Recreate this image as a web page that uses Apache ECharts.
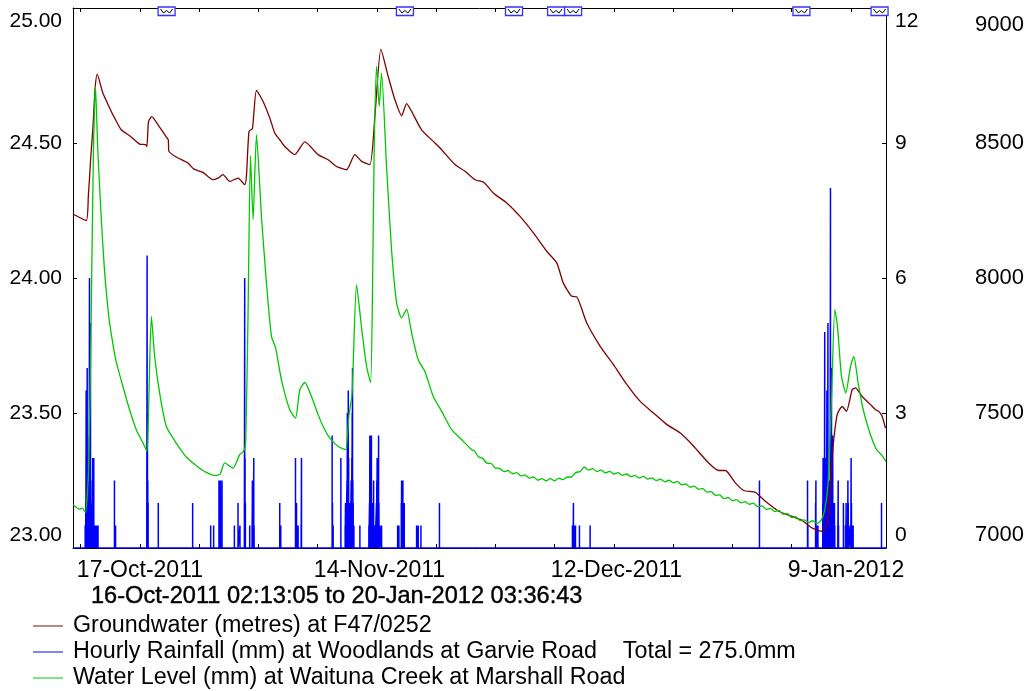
<!DOCTYPE html>
<html>
<head>
<meta charset="utf-8">
<script src="https://cdn.jsdelivr.net/npm/echarts@6/dist/echarts.min.js"></script>
<style>
  html, body { margin: 0; padding: 0; background: #fff; }
  #chart { width: 1028px; height: 691px; }
</style>
</head>
<body>
<div id="chart"></div>
<script>
// Time is measured in days from 16-Oct-2011 00:00.
const START_DAY = 0.09242;   // 16-Oct-2011 02:13:05
const END_DAY = 96.15050;    // 20-Jan-2012 03:36:43
const periodText = '16-Oct-2011 02:13:05 to 20-Jan-2012 03:36:43';

// Weekly tick marks and the four-weekly date labels
const tickDays = [1, 8, 15, 22, 29, 36, 43, 50, 57, 64, 71, 78, 85, 92];
const labelDays = [1, 29, 57, 85];
const dateLabels = ['17-Oct-2011', '14-Nov-2011', '12-Dec-2011', '9-Jan-2012'];

const groundwaterName = 'Groundwater (metres) at F47/0252';
const rainfallName = 'Hourly Rainfall (mm) at Woodlands at Garvie Road';
const waterLevelName = 'Water Level (mm) at Waituna Creek at Marshall Road';

// Groundwater level, metres [day, m]
const groundwater = [
  [0.09, 24.237], [1.65, 24.213], [1.90, 24.30], [2.20, 24.45], [2.43, 24.55], [2.70, 24.70],
  [2.95, 24.755], [3.62, 24.685], [4.61, 24.617], [5.00, 24.593], [5.79, 24.549], [6.78, 24.527],
  [7.96, 24.496], [8.67, 24.494], [8.82, 24.487], [9.02, 24.58], [9.41, 24.598], [10.12, 24.568],
  [11.12, 24.522], [11.35, 24.512], [11.43, 24.469], [12.30, 24.448], [13.67, 24.426], [14.35, 24.404],
  [15.45, 24.391], [16.63, 24.364], [17.22, 24.37], [17.81, 24.383], [18.61, 24.358], [19.59, 24.37],
  [20.38, 24.346], [20.58, 24.376], [20.89, 24.543], [21.29, 24.553], [21.77, 24.695], [22.55, 24.654],
  [23.34, 24.593], [23.93, 24.537], [24.52, 24.512], [25.11, 24.487], [26.30, 24.457], [27.48, 24.504],
  [29.05, 24.457], [30.24, 24.438], [31.23, 24.413], [32.41, 24.401], [33.39, 24.457], [34.19, 24.432],
  [35.17, 24.42], [35.76, 24.598], [36.47, 24.848], [37.33, 24.747], [38.13, 24.66], [38.92, 24.601],
  [39.51, 24.646], [40.10, 24.617], [41.28, 24.549], [42.86, 24.50], [43.65, 24.475], [45.22, 24.42],
  [46.41, 24.395], [47.59, 24.364], [48.65, 24.354], [49.75, 24.315], [51.34, 24.278], [52.91, 24.228],
  [54.49, 24.167], [56.07, 24.099], [57.25, 24.056], [58.03, 23.981], [59.03, 23.932], [59.62, 23.93],
  [60.80, 23.833], [62.38, 23.747], [63.95, 23.679], [65.54, 23.605], [67.11, 23.543], [68.68, 23.50],
  [70.27, 23.457], [71.84, 23.426], [73.02, 23.391], [73.62, 23.37], [75.19, 23.315], [76.37, 23.287],
  [77.17, 23.287], [78.35, 23.241], [79.33, 23.213], [80.72, 23.206], [81.90, 23.173], [83.47, 23.136],
  [85.05, 23.117], [86.23, 23.102], [87.42, 23.074], [88.60, 23.062], [89.26, 23.093], [89.79, 23.339],
  [90.38, 23.494], [90.97, 23.524], [91.48, 23.506], [92.15, 23.586], [92.54, 23.593], [93.33, 23.561],
  [94.32, 23.531], [94.91, 23.512], [95.30, 23.506], [95.70, 23.487], [96.09, 23.444]
];

// Creek water level, mm [day, mm]
const waterLevel = [
  [0.09, 7160], [0.86, 7144], [1.17, 7148], [1.56, 7132], [1.95, 7302], [2.24, 7858], [2.51, 8475],
  [2.75, 8710], [3.02, 8475], [3.42, 8228], [3.81, 8031], [4.32, 7858], [4.79, 7759], [5.19, 7691],
  [5.98, 7599], [6.78, 7512], [7.57, 7438], [8.36, 7389], [8.83, 7358], [9.00, 7487], [9.35, 7858],
  [9.74, 7710], [10.33, 7574], [11.12, 7450], [11.91, 7407], [12.69, 7370], [13.48, 7337], [14.67, 7305],
  [15.85, 7280], [17.03, 7268], [17.50, 7275], [18.01, 7315], [19.00, 7296], [19.79, 7346], [20.26, 7358],
  [20.50, 7395], [20.77, 7858], [21.06, 8453], [21.37, 8216], [21.77, 8531], [22.36, 8228], [22.95, 7981],
  [23.54, 7784], [24.03, 7741], [24.72, 7623], [25.70, 7512], [26.38, 7481], [26.89, 7586], [27.48, 7613],
  [28.27, 7561], [29.05, 7494], [29.84, 7438], [30.44, 7407], [31.42, 7376], [32.29, 7364], [32.68, 7487],
  [33.07, 7574], [33.59, 7975], [34.26, 7796], [34.78, 7673], [35.25, 7613], [35.49, 7981], [35.68, 8475],
  [35.96, 8784], [36.27, 8636], [36.55, 8759], [37.14, 8413], [37.73, 8105], [38.33, 7907], [38.92, 7852],
  [39.51, 7885], [40.10, 7796], [40.88, 7697], [41.67, 7654], [42.66, 7561], [43.65, 7506], [44.83, 7438],
  [46.02, 7401], [47.20, 7364], [47.5, 7360], [48.0, 7338], [48.5, 7332], [49.0, 7314], [49.5, 7313],
  [50.0, 7296], [50.5, 7295], [51.0, 7283], [51.5, 7287], [52.0, 7275], [52.5, 7279], [53.0, 7267],
  [53.5, 7271], [54.0, 7259], [54.5, 7263], [55.0, 7251], [55.5, 7257], [56.0, 7249], [56.5, 7257],
  [57.0, 7249], [57.5, 7259], [58.0, 7253], [58.5, 7263], [59.0, 7263], [59.5, 7280], [60.0, 7283],
  [60.5, 7300], [61.0, 7289], [61.5, 7294], [62.0, 7283], [62.5, 7289], [63.0, 7278], [63.5, 7284],
  [64.0, 7274], [64.5, 7279], [65.0, 7269], [65.5, 7274], [66.0, 7264], [66.5, 7269], [67.0, 7259],
  [67.5, 7265], [68.0, 7255], [68.5, 7260], [69.0, 7250], [69.5, 7255], [70.0, 7245], [70.5, 7251],
  [71.0, 7241], [71.5, 7247], [72.0, 7234], [72.5, 7237], [73.0, 7225], [73.5, 7229], [74.0, 7218],
  [74.5, 7220], [75.0, 7207], [75.5, 7209], [76.0, 7195], [76.5, 7197], [77.0, 7183], [77.5, 7187],
  [78.0, 7175], [78.5, 7179], [79.0, 7167], [79.5, 7172], [80.0, 7162], [80.5, 7166], [81.0, 7153],
  [81.5, 7156], [82.0, 7143], [82.5, 7147], [83.0, 7135], [83.5, 7139], [84.0, 7125], [84.5, 7127],
  [85.0, 7113], [85.5, 7115], [86.0, 7102], [86.5, 7104], [87.0, 7094], [87.5, 7101], [88.0, 7091],
  [88.5, 7103], [88.92, 7142], [89.31, 7241], [89.71, 7549], [90.10, 7883], [90.42, 7821], [90.89, 7636],
  [91.40, 7574], [91.96, 7673], [92.35, 7710], [92.86, 7611], [93.46, 7512], [94.25, 7426], [95.04, 7364],
  [95.63, 7345], [96.02, 7327], [96.15, 7320]
];

// Hourly rainfall totals, mm [day, mm] (hours with no rain are left out)
const rainfall = [
  [1.53, 0.5], [1.57, 0.5], [1.61, 1.0], [1.65, 3.5], [1.69, 2.0], [1.73, 2.5], [1.77, 4.0], [1.81, 1.5],
  [1.86, 1.0], [1.91, 1.0], [1.96, 0.5], [2.00, 2.5], [2.04, 6.0], [2.08, 3.0], [2.12, 2.5], [2.16, 5.0],
  [2.20, 1.5], [2.24, 1.0], [2.28, 1.0], [2.33, 0.5], [2.38, 1.0], [2.43, 2.0], [2.47, 1.0], [2.51, 0.5],
  [2.55, 2.0], [2.59, 0.5], [2.64, 0.5], [2.72, 0.5], [2.87, 0.5], [3.05, 0.5],
  [4.99, 1.5], [5.03, 0.5], [5.12, 0.5],
  [8.81, 1.0], [8.85, 6.5], [8.89, 3.0], [8.93, 1.5], [8.97, 1.0],
  [10.17, 1.0], [14.23, 1.0], [16.36, 0.5], [16.71, 0.5],
  [17.34, 1.5], [17.38, 0.5], [17.47, 1.0], [17.51, 1.5], [17.55, 0.5], [17.66, 1.0], [17.70, 1.5],
  [19.16, 0.5], [19.59, 1.0], [19.82, 0.5],
  [20.34, 1.0], [20.38, 6.0], [20.42, 2.0], [20.46, 1.0],
  [20.97, 0.5], [21.25, 0.5], [21.29, 1.5], [21.33, 1.0], [21.41, 1.0], [21.45, 2.0], [21.49, 0.5],
  [24.52, 1.0], [24.64, 0.5],
  [26.38, 2.0], [26.42, 1.0], [26.50, 1.0], [26.54, 0.5], [26.69, 0.5], [27.05, 0.5], [27.09, 2.0],
  [30.71, 2.5], [30.75, 1.0], [30.83, 0.5], [31.74, 2.0],
  [32.25, 0.5], [32.29, 1.0], [32.33, 0.5], [32.47, 1.5], [32.51, 3.0], [32.55, 2.0], [32.58, 1.5],
  [32.62, 3.5], [32.66, 2.0], [32.72, 1.0], [32.80, 0.5], [32.88, 1.0], [32.96, 1.5], [33.00, 1.0],
  [33.04, 2.0], [33.08, 3.0], [33.12, 4.0], [33.16, 1.5], [33.20, 1.0], [33.28, 0.5],
  [33.99, 0.5],
  [35.05, 0.5], [35.13, 1.0], [35.17, 2.5], [35.21, 1.5], [35.27, 1.0], [35.31, 1.5], [35.35, 2.5],
  [35.39, 1.0], [35.45, 0.5], [35.49, 1.0], [35.53, 1.0], [35.57, 1.0], [35.61, 1.5], [35.65, 0.5],
  [35.79, 0.5], [35.95, 1.0], [35.99, 1.5], [36.03, 2.0], [36.07, 1.5], [36.12, 1.0], [36.16, 1.5],
  [36.20, 2.5], [36.24, 1.0], [36.35, 0.5], [36.55, 0.5],
  [38.45, 0.5], [38.60, 0.5], [38.88, 1.0], [38.92, 1.5], [38.96, 0.5], [39.03, 1.0], [39.07, 1.5],
  [39.11, 0.5], [39.19, 0.5], [39.23, 1.0],
  [40.69, 0.5], [40.88, 0.5], [41.20, 0.5], [43.39, 1.0],
  [59.10, 0.5], [59.14, 0.5], [59.18, 0.5], [59.22, 1.0], [59.26, 0.5], [59.30, 0.5], [59.34, 0.5],
  [59.46, 0.5], [59.93, 0.5], [61.19, 0.5],
  [81.20, 1.5],
  [86.88, 1.5], [86.92, 0.5], [87.83, 1.0], [87.87, 1.5], [87.91, 0.5], [87.99, 0.5], [88.11, 0.5],
  [88.68, 1.0], [88.72, 2.0], [88.76, 0.5], [88.80, 1.5], [88.84, 0.5], [88.87, 2.0], [88.91, 4.8],
  [88.95, 1.7], [88.99, 1.5], [89.03, 1.0], [89.07, 2.0], [89.13, 1.5], [89.17, 3.5], [89.21, 2.0],
  [89.25, 1.5], [89.29, 5.0], [89.33, 1.5], [89.37, 1.5], [89.42, 1.0], [89.46, 1.5], [89.50, 1.0],
  [89.55, 1.5], [89.59, 8.0], [89.63, 1.5], [89.67, 1.5], [89.71, 4.0], [89.75, 1.5], [89.80, 1.0],
  [89.86, 2.5], [89.90, 1.0], [89.96, 0.5], [90.06, 1.0], [90.10, 0.5], [90.46, 0.5], [90.50, 1.5],
  [90.54, 0.5], [91.12, 1.0], [91.16, 0.5], [91.40, 0.5], [91.44, 1.0], [91.61, 0.5], [91.65, 1.5],
  [91.69, 1.0], [91.77, 0.5], [91.99, 0.5], [92.03, 2.0], [92.07, 1.0], [92.15, 0.5], [92.27, 0.5],
  [95.62, 1.0]
];

// Times of the record gaps flagged along the top edge
const gapMarkers = [11.15, 39.31, 52.20, 57.17, 59.18, 86.16, 95.39];

const FONT = '"Liberation Sans", Arial, sans-serif';
const Y_FONT_SIZE = 21;
const FAR_Y_FONT_SIZE = 22;
const X_FONT_SIZE = 23;
const TEXT_FONT_SIZE = 23.3;

const rainTotal = rainfall.reduce((s, r) => s + r[1], 0);

// Rainfall is drawn as vertical spikes rising from a zero baseline
const rainLine = [[START_DAY, 0]];
rainfall.forEach(([d, v]) => { rainLine.push([d, 0], [d, v], [d, 0]); });
rainLine.push([END_DAY, 0]);

function edgeRich(size, topPad, bottomPad) {
  return {
    t: { fontSize: size, fontFamily: FONT, color: '#000', padding: [topPad, 0, 0, 0] },
    b: { fontSize: size, fontFamily: FONT, color: '#000', padding: [0, 0, bottomPad, 0] }
  };
}
function edgeFormatter(min, max, digits) {
  return v => {
    const s = v.toFixed(digits);
    if (Math.abs(v - max) < 1e-9) return '{t|' + s + '}';
    if (Math.abs(v - min) < 1e-9) return '{b|' + s + '}';
    return s;
  };
}

const axisLineStyle = { show: true, lineStyle: { color: '#000', width: 1 } };
const tickStyle = { show: true, inside: true, length: 4, lineStyle: { color: '#000', width: 1 } };

const chart = echarts.init(document.getElementById('chart'), null, { renderer: 'canvas' });

chart.setOption({
  animation: false,
  backgroundColor: '#fff',
  grid: { left: 73, right: 142, top: 8, bottom: 143, containLabel: false },
  title: {
    text: periodText,
    left: 91, top: 584, padding: 0,
    textStyle: {
      fontFamily: FONT, fontSize: 23.6, fontWeight: 'normal', color: '#000',
      textBorderColor: '#000', textBorderWidth: 0.4
    }
  },
  legend: {
    type: 'plain', orient: 'vertical', left: 33, top: 613, height: 78, padding: 0, itemGap: 0,
    itemWidth: 30, itemHeight: 1.5, icon: 'rect',
    data: [
      { name: groundwaterName, itemStyle: { color: '#b05a5a' } },
      { name: rainfallName, itemStyle: { color: '#5a5aff' } },
      { name: waterLevelName, itemStyle: { color: '#5ad65a' } }
    ],
    selectedMode: false,
    textStyle: { fontFamily: FONT, fontSize: TEXT_FONT_SIZE, color: '#000', lineHeight: 26, padding: [0, 0, 0, 5] },
    formatter: name => name === rainfallName
      ? name + '    Total = ' + rainTotal.toFixed(1) + 'mm'
      : name
  },
  xAxis: [
    {
      type: 'value', position: 'bottom', min: START_DAY, max: END_DAY,
      axisLine: axisLineStyle,
      axisTick: Object.assign({ customValues: tickDays }, tickStyle),
      splitLine: { show: false },
      axisLabel: {
        customValues: labelDays.map(d => d - 0.45),
        formatter: v => dateLabels[labelDays.indexOf(Math.round(v))] || '',
        align: 'left', margin: 11,
        fontFamily: FONT, fontSize: X_FONT_SIZE, color: '#000'
      }
    },
    {
      type: 'value', position: 'top', min: START_DAY, max: END_DAY,
      axisLine: axisLineStyle,
      axisTick: Object.assign({ customValues: tickDays }, tickStyle),
      splitLine: { show: false },
      axisLabel: { show: false }
    }
  ],
  yAxis: [
    {
      type: 'value', position: 'left', min: 23, max: 25, interval: 0.5,
      axisLine: axisLineStyle, axisTick: tickStyle, splitLine: { show: false },
      axisLabel: {
        margin: 11, fontFamily: FONT, fontSize: Y_FONT_SIZE, color: '#000',
        formatter: edgeFormatter(23, 25, 2), rich: edgeRich(Y_FONT_SIZE, 26, 26)
      }
    },
    {
      type: 'value', position: 'right', min: 0, max: 12, interval: 3,
      axisLine: axisLineStyle, axisTick: tickStyle, splitLine: { show: false },
      axisLabel: {
        margin: 9, fontFamily: FONT, fontSize: Y_FONT_SIZE, color: '#000',
        formatter: edgeFormatter(0, 12, 0), rich: edgeRich(Y_FONT_SIZE, 26, 26)
      }
    },
    {
      type: 'value', position: 'right', offset: 81, min: 7000, max: 9000, interval: 500,
      axisLine: { show: false }, axisTick: { show: false }, splitLine: { show: false },
      axisLabel: {
        margin: 8, fontFamily: FONT, fontSize: FAR_Y_FONT_SIZE, color: '#000',
        formatter: edgeFormatter(7000, 9000, 0), rich: edgeRich(FAR_Y_FONT_SIZE, 34, 26)
      }
    }
  ],
  series: [
    {
      name: rainfallName, type: 'line', xAxisIndex: 0, yAxisIndex: 1,
      data: rainLine, symbol: 'none', color: '#0000ff',
      lineStyle: { color: '#0000ff', width: 1.5 }, z: 2
    },
    {
      name: groundwaterName, type: 'line', xAxisIndex: 0, yAxisIndex: 0,
      data: groundwater, symbol: 'none', smooth: 0.2, color: '#800000',
      lineStyle: { color: '#800000', width: 1.3 }, z: 3
    },
    {
      name: waterLevelName, type: 'line', xAxisIndex: 0, yAxisIndex: 2,
      data: waterLevel, symbol: 'none', smooth: 0.2, color: '#00c800',
      lineStyle: { color: '#00c800', width: 1.3 }, z: 4
    },
    {
      name: 'gaps', type: 'custom', xAxisIndex: 0, yAxisIndex: 1, clip: false, z: 10,
      data: gapMarkers.map(d => [d, 12]),
      renderItem: (params, api) => {
        const p = api.coord([api.value(0), api.value(1)]);
        const x = p[0], y = p[1] - 1;
        return {
          type: 'group',
          children: [
            { type: 'rect', shape: { x: x - 8.5, y: y, width: 17, height: 8.5 },
              style: { fill: '#fff', stroke: '#3333ff', lineWidth: 1.3 } },
            { type: 'polyline',
              shape: { points: [[x - 6, y + 2], [x - 3, y + 6], [x, y + 3.5], [x + 3, y + 6], [x + 6, y + 2]] },
              style: { fill: null, stroke: '#000', lineWidth: 1 } }
          ]
        };
      }
    }
  ]
});
</script>
</body>
</html>
